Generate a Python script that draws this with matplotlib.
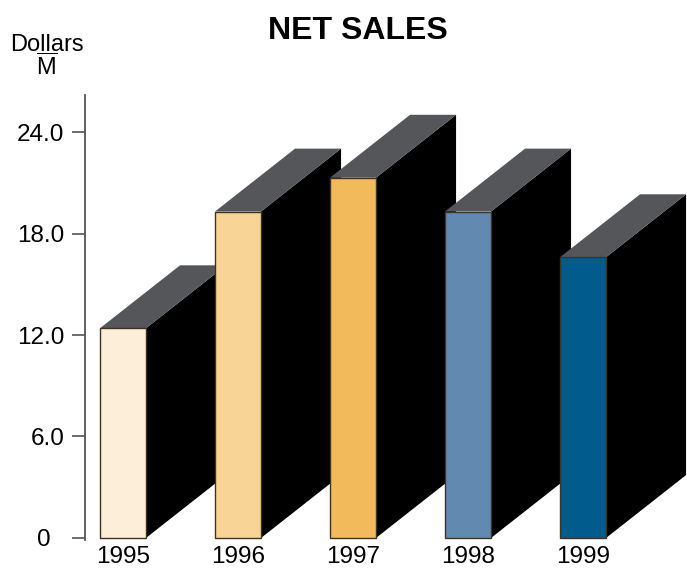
import matplotlib
matplotlib.use("Agg")
import matplotlib.pyplot as plt
from matplotlib.transforms import ScaledTranslation

plt.rcParams['font.family'] = ['Liberation Sans', 'DejaVu Sans']
plt.rcParams['mathtext.fontset'] = 'custom'
plt.rcParams['mathtext.rm'] = 'Liberation Sans'

# data
years = ["1995", "1996", "1997", "1998", "1999"]
sales = [12.4, 19.3, 21.3, 19.3, 16.6]  # $M
front_colors = ["#FDEEDA", "#F8D597", "#F2BA5B", "#6289AF", "#015B8D"]
y_ticks = [0, 6, 12, 18, 24]
y_tick_labels = ["0", "6.0", "12.0", "18.0", "24.0"]

# 3d look
bar_w = 0.4
depth_x = 0.696
depth_y = 3.72
top_color = "#54565A"
side_color = "#000000"

fig = plt.figure(figsize=(6.87, 5.70), dpi=100)
ax = fig.add_axes([85 / 687, 30 / 570, 602 / 687, 445 / 570])

for i, (v, c) in enumerate(zip(sales, front_colors)):
    x0 = i
    x1 = i + bar_w
    # side face
    ax.fill([x1, x1, x1 + depth_x, x1 + depth_x],
            [0, v, v + depth_y, depth_y],
            color=side_color, lw=0, clip_on=False, zorder=2)
    # top face
    ax.fill([x0, x1, x1 + depth_x, x0 + depth_x],
            [v, v, v + depth_y, v + depth_y],
            color=top_color, lw=0, clip_on=False, zorder=2)
    # front face
    ax.fill([x0, x1, x1, x0], [0, 0, v, v],
            facecolor=c, edgecolor="#3d3426", lw=1.0, clip_on=False, zorder=3)

ax.set_xlim(-0.1304, 5.104)
ax.set_ylim(-0.12, 26.19)

ax.set_yticks(y_ticks)
ax.set_yticklabels(y_tick_labels, fontsize=17.5)
ax.set_xticks([i + bar_w / 2 for i in range(len(years))])
ax.set_xticklabels(years, fontsize=17.5)

ax.tick_params(axis="y", direction="out", length=9.4, width=1.2,
               color="#555555", pad=5.5)
ax.tick_params(axis="x", length=0, pad=4.5)

for s in ["top", "right", "bottom"]:
    ax.spines[s].set_visible(False)
ax.spines["left"].set_color("#555555")
ax.spines["left"].set_linewidth(1.3)

# the "0" label sits further left than the others
lab0 = ax.get_yticklabels()[0]
lab0.set_transform(lab0.get_transform() + ScaledTranslation(-10 / 72, 0, fig.dpi_scale_trans))

fig.text(358 / 687, 1 - 31 / 570, "NET SALES", fontsize=23, fontweight="bold",
         ha="center", va="center")
fig.text(47 / 687, 1 - 45 / 570, "Dollars", fontsize=17, ha="center", va="center")
fig.text(47 / 687, 1 - 67 / 570, r"$\overline{\mathrm{M}}$", fontsize=17,
         ha="center", va="center")

fig.savefig("out.png", dpi=100)
